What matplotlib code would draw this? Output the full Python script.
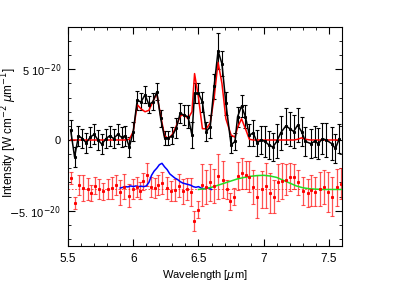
import numpy as np
import matplotlib
matplotlib.use("Agg")
import matplotlib.pyplot as plt
from matplotlib.ticker import FixedLocator, MultipleLocator

plt.rcParams['font.family'] = ['Liberation Sans', 'DejaVu Sans']
plt.rcParams['mathtext.fontset'] = 'dejavusans'

# observed spectrum (units of 1e-20 W cm-2 um-1)
wl = [5.52, 5.55, 5.58, 5.61, 5.64, 5.67, 5.70, 5.73, 5.76, 5.79, 5.82, 5.85, 5.88,
      5.91, 5.94, 5.97, 6.00, 6.03, 6.06, 6.09, 6.12, 6.15, 6.18, 6.21, 6.24, 6.27,
      6.30, 6.33, 6.36, 6.39, 6.42, 6.45, 6.47, 6.50, 6.53, 6.56, 6.59, 6.62, 6.65,
      6.68, 6.71, 6.75, 6.78, 6.80, 6.83, 6.86, 6.89, 6.92, 6.95, 6.98, 7.01, 7.04,
      7.07, 7.10, 7.13, 7.17, 7.20, 7.23, 7.26, 7.29, 7.32, 7.36, 7.39, 7.42, 7.45,
      7.48, 7.52, 7.55, 7.58]
flux = [0.7, -1.2, 0.3, 0.1, -0.2, 0.2, 0.4, 0.0, -0.3, 0.1, 0.3, 0.1, 0.4,
        0.2, 0.3, -0.5, 0.6, 2.8, 2.7, 3.2, 2.5, 2.7, 3.4, 1.55, 0.15, 0.15,
        0.3, 0.85, 1.9, 1.75, 1.65, 0.35, 3.3, 3.3, 2.7, 0.6, 0.95, 3.8, 6.3,
        5.4, 2.6, -0.35, -0.1, 1.65, 2.4, 1.65, 0.35, 0.5, -0.2, 0.0, -0.1, -0.35,
        -0.5, -0.1, 0.5, 1.0, 0.8, 0.6, 1.05, 0.6, -0.1, -0.25, -0.1, -0.25, 0.1,
        0.0, -0.25, -0.6, 0.1]
flux_err = [0.7, 0.7, 0.7, 0.7, 0.7, 0.7, 0.7, 0.7, 0.7, 0.7, 0.7, 0.7, 0.7,
            0.7, 0.7, 0.7, 0.7, 0.7, 0.6, 0.6, 0.6, 0.6, 0.6, 0.6, 0.5, 0.5,
            0.6, 0.7, 0.7, 0.7, 0.8, 0.9, 0.7, 0.7, 0.7, 0.7, 0.8, 0.9, 1.3,
            0.9, 0.8, 0.6, 0.6, 0.7, 0.8, 0.8, 0.8, 0.9, 0.9, 1.0, 1.1, 1.0,
            1.0, 1.2, 1.2, 1.3, 1.2, 1.2, 1.2, 1.0, 1.0, 1.0, 1.1, 1.1, 1.1,
            1.2, 1.2, 1.0, 1.0]
model = [0.0, 0.0, 0.0, 0.0, 0.0, 0.0, 0.0, 0.0, 0.0, 0.0, 0.0, 0.0, 0.0,
         0.0, 0.0, 0.05, 0.6, 2.5, 2.2, 2.0, 2.1, 2.7, 3.3, 1.7, 0.3, 0.1,
         0.4, 1.0, 1.7, 1.8, 1.5, 2.0, 4.7, 3.0, 0.8, 0.8, 1.2, 3.0, 5.5,
         4.0, 1.5, 0.35, 0.2, 0.9, 1.5, 0.8, 0.05, 0.0, 0.0, 0.0, 0.0, 0.0,
         0.0, 0.0, 0.0, 0.0, 0.0, 0.0, 0.05, 0.15, 0.05, 0.0, 0.0, 0.0, 0.0,
         0.0, 0.0, 0.0, 0.0]

# residual spectrum shown with an offset
offset = -3.5
res_wl = [5.523, 5.556, 5.587, 5.617, 5.65, 5.676, 5.709, 5.74, 5.77, 5.804, 5.835,
          5.868, 5.898, 5.93, 5.965, 5.996, 6.026, 6.05, 6.077, 6.102, 6.136, 6.169,
          6.192, 6.223, 6.256, 6.287, 6.32, 6.353, 6.383, 6.414, 6.44, 6.468, 6.498,
          6.524, 6.557, 6.588, 6.618, 6.651, 6.685, 6.715, 6.74, 6.77, 6.803, 6.834,
          6.867, 6.887, 6.92, 6.95, 6.984, 7.015, 7.048, 7.081, 7.112, 7.142, 7.168,
          7.2, 7.234, 7.264, 7.302, 7.336, 7.366, 7.397, 7.43, 7.461, 7.494, 7.525,
          7.559, 7.592]
res = [-2.7, -4.46, -3.17, -3.4, -3.47, -3.75, -3.24, -3.47, -3.64, -3.47, -3.4,
       -3.17, -3.71, -3.3, -3.94, -3.47, -3.3, -3.6, -2.93, -2.46, -3.3, -3.4,
       -3.17, -3.05, -3.4, -3.6, -3.55, -3.24, -3.64, -3.47, -3.7, -5.75, -4.93,
       -3.17, -3.3, -3.0, -3.24, -2.58, -2.8, -3.5, -4.34, -4.0, -2.54, -2.35,
       -2.5, -2.6, -3.3, -4.0, -3.5, -3.24, -3.75, -4.0, -3.0, -2.9, -2.8,
       -2.6, -2.6, -3.0, -3.6, -3.75, -3.55, -3.65, -3.5, -3.3, -3.7, -4.0,
       -3.35, -3.1]
res_err = [0.4, 0.4, 0.7, 0.9, 0.8, 0.6, 0.6, 0.7, 0.6, 0.7, 0.8,
           0.7, 0.9, 0.9, 0.8, 0.7, 0.7, 0.6, 0.6, 0.8, 0.7, 0.7,
           0.7, 0.8, 0.8, 0.7, 0.8, 0.8, 0.9, 0.8, 1.0, 0.7, 0.6,
           1.5, 1.2, 1.3, 1.2, 1.6, 1.3, 0.7, 0.6, 0.6, 1.0, 1.1,
           1.0, 1.1, 1.2, 1.5, 1.3, 1.6, 1.4, 1.2, 1.3, 1.3, 1.1,
           1.0, 0.9, 0.9, 1.0, 1.0, 1.1, 1.0, 1.2, 1.2, 1.4, 1.4,
           1.3, 1.1]

# 6.2 um band template (blue) and broad 7 um component (green)
blue_wl = [5.90, 5.92, 5.94, 5.96, 5.98, 6.00, 6.02, 6.04, 6.06, 6.08, 6.10, 6.12,
           6.14, 6.16, 6.18, 6.20, 6.22, 6.24, 6.26, 6.28, 6.30, 6.32, 6.34, 6.36,
           6.38, 6.40, 6.42, 6.44, 6.46, 6.48, 6.50, 6.52, 6.54, 6.56, 6.58, 6.60]
blue = [-3.4, -3.35, -3.3, -3.32, -3.25, -3.3, -3.25, -3.3, -3.27, -3.3, -3.25, -3.0,
        -2.5, -2.2, -2.0, -1.75, -1.65, -1.9, -2.1, -2.4, -2.55, -2.7, -2.8, -2.95,
        -3.05, -3.1, -3.15, -3.2, -3.3, -3.35, -3.3, -3.4, -3.45, -3.42, -3.4, -3.5]
green_wl = [6.50, 6.55, 6.60, 6.65, 6.70, 6.75, 6.80, 6.85, 6.90, 6.95, 7.00, 7.05,
            7.10, 7.15, 7.20, 7.25, 7.30, 7.35, 7.40, 7.45, 7.50, 7.55, 7.60]
green = [-3.5, -3.45, -3.35, -3.2, -3.05, -2.9, -2.75, -2.65, -2.57, -2.52, -2.5, -2.55,
         -2.65, -2.85, -3.05, -3.25, -3.38, -3.45, -3.48, -3.5, -3.5, -3.5, -3.5]

s = 1e-20
fig = plt.figure(figsize=(4.1, 2.87), dpi=100)
ax = fig.add_axes([0.166, 0.143, 0.668, 0.763])

ax.axhline(offset * s, color='red', lw=0.6, ls=(0, (2, 2)), alpha=0.8)
ax.errorbar(res_wl, np.array(res) * s, yerr=np.array(res_err) * s, fmt='s', ms=1.2,
            color='red', ecolor=(1, 0.1, 0.1, 0.75), elinewidth=0.9, capsize=1.5, capthick=0.8)
ax.errorbar(wl, np.array(flux) * s, yerr=np.array(flux_err) * s, fmt='-s', ms=1.2,
            color='black', lw=1.1, elinewidth=0.8, capsize=1.5, capthick=0.8)
ax.plot(wl, np.array(model) * s, color='red', lw=1.1)
ax.plot(blue_wl, np.array(blue) * s, color='blue', lw=1.1)
ax.plot(green_wl, np.array(green) * s, color='#22dd22', lw=1.1)

ax.set_xlim(5.5, 7.6)
ax.set_ylim(-7.5e-20, 8e-20)
ax.xaxis.set_major_locator(FixedLocator([5.5, 6, 6.5, 7, 7.5]))
ax.xaxis.set_minor_locator(MultipleLocator(0.1))
ax.set_xticklabels(['5.5', '6', '6.5', '7', '7.5'])
ax.yaxis.set_major_locator(FixedLocator([-5e-20, 0, 5e-20]))
ax.yaxis.set_minor_locator(MultipleLocator(1e-20))
ax.set_yticklabels([r'$-$5. 10$^{-20}$', '0', r'5 10$^{-20}$'])
ax.tick_params(which='both', direction='in', top=True, right=True, labelsize=8.5, pad=5)
ax.tick_params(axis='y', labelsize=8)
ax.tick_params(which='major', length=5)
ax.tick_params(which='minor', length=2.5)

ax.set_xlabel(r'Wavelength [$\mu$m]', fontsize=8, labelpad=2)
ax.set_ylabel(r'Intensity [W cm$^{-2}$ $\mu$m$^{-1}$]', fontsize=8.5)
ax.yaxis.set_label_coords(-0.178, 0.516)

fig.savefig('out.png', dpi=100)
